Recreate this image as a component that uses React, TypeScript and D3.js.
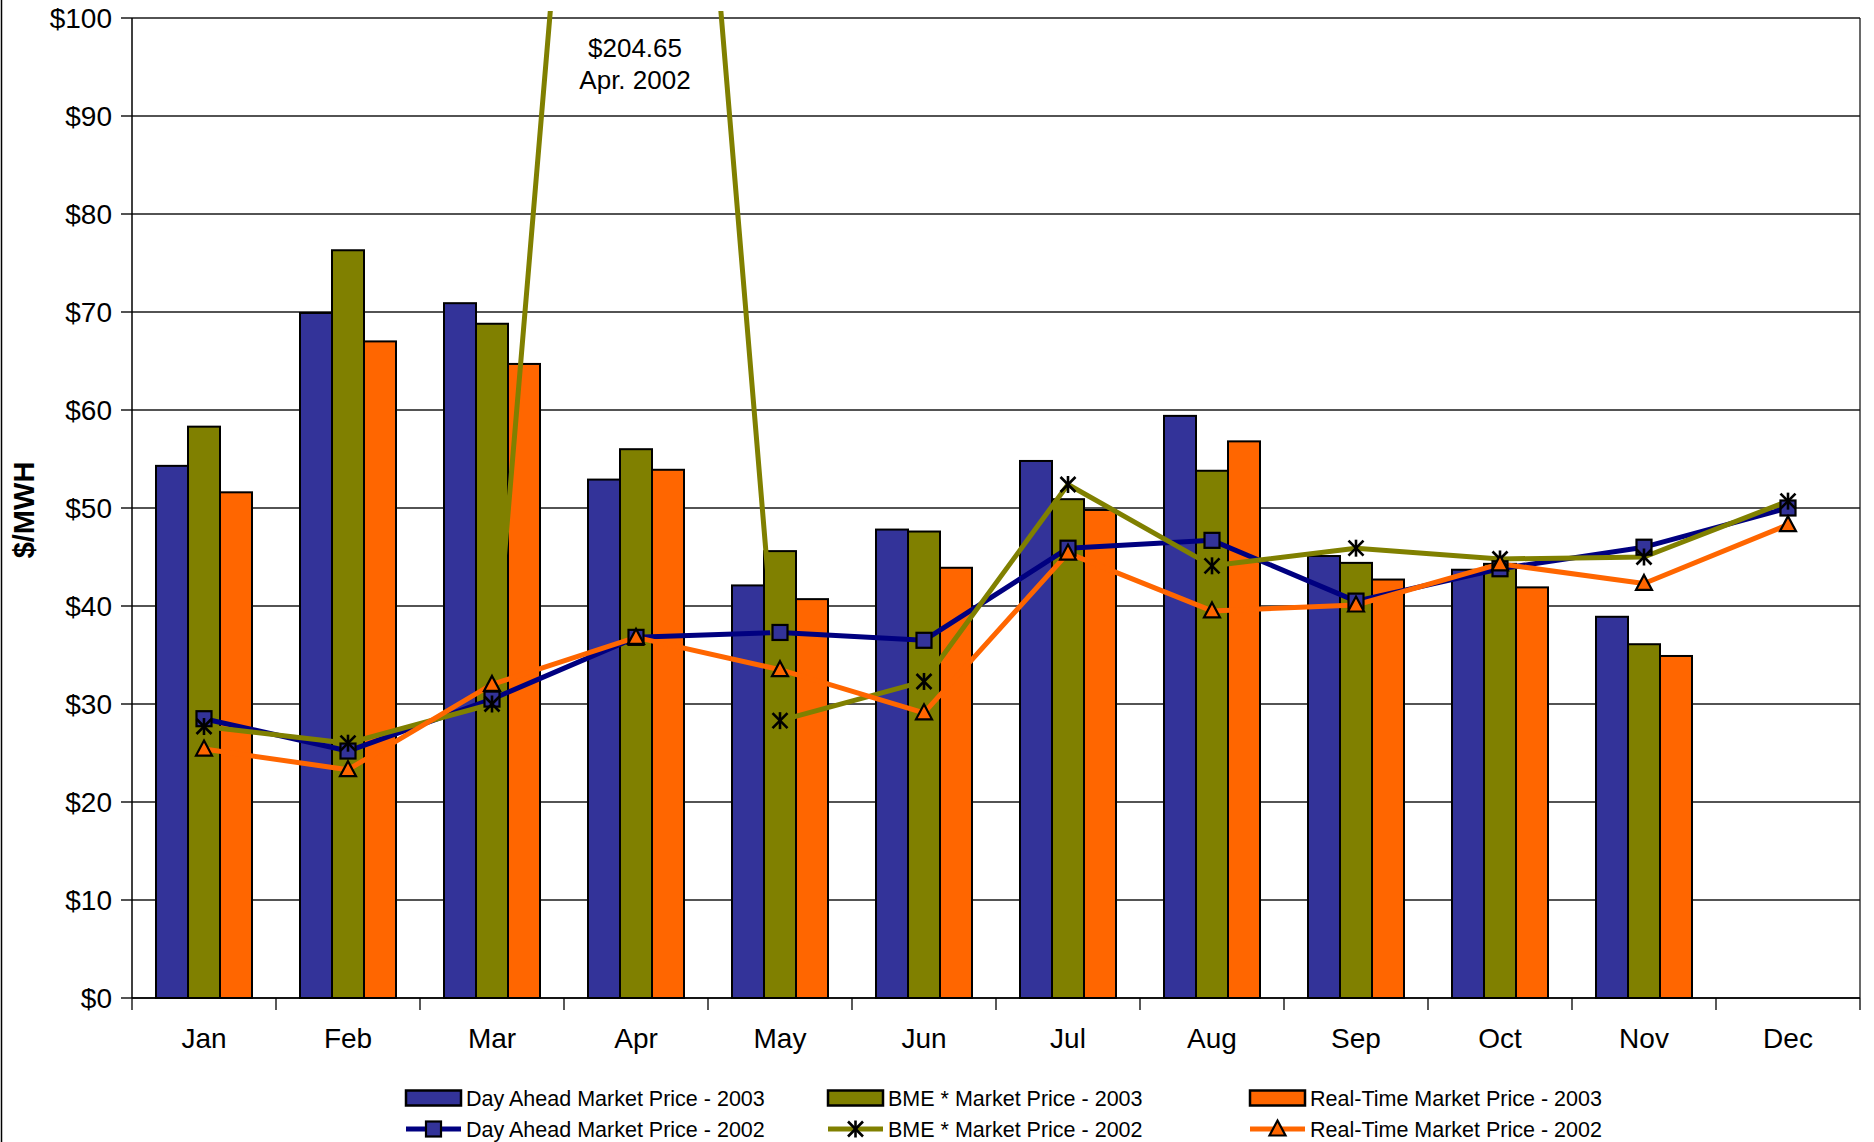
import React from "react";
import * as d3 from "d3";

const months = ["Jan", "Feb", "Mar", "Apr", "May", "Jun", "Jul", "Aug", "Sep", "Oct", "Nov", "Dec"];
const da2003: (number | null)[] = [54.3, 69.9, 70.9, 52.9, 42.1, 47.8, 54.8, 59.4, 45.1, 43.7, 38.9, null];
const bme2003: (number | null)[] = [58.3, 76.3, 68.8, 56.0, 45.6, 47.6, 50.9, 53.8, 44.4, 44.3, 36.1, null];
const rt2003: (number | null)[] = [51.6, 67.0, 64.7, 53.9, 40.7, 43.9, 49.8, 56.8, 42.7, 41.9, 34.9, null];
const da2002 = [28.5, 25.2, 30.5, 36.8, 37.3, 36.5, 45.9, 46.7, 40.5, 43.8, 46.0, 50.0];
const bme2002 = [27.7, 26.0, 30.0, 204.65, 28.3, 32.3, 52.4, 44.1, 45.9, 44.8, 45.0, 50.7];
const rt2002 = [25.4, 23.3, 32.0, 36.8, 33.5, 29.1, 45.4, 39.5, 40.1, 44.3, 42.3, 48.3];
const yTicks = [0, 10, 20, 30, 40, 50, 60, 70, 80, 90, 100];
const annotation = ["$204.65", "Apr. 2002"];

const barSeries = [
  { key: "da", name: "Day Ahead Market Price - 2003", values: da2003, color: "#333399" },
  { key: "bme", name: "BME * Market Price - 2003", values: bme2003, color: "#808000" },
  { key: "rt", name: "Real-Time Market Price - 2003", values: rt2003, color: "#FF6600" },
];
const lineSeries = [
  { key: "da", name: "Day Ahead Market Price - 2002", values: da2002, color: "#000080", marker: "square" },
  { key: "bme", name: "BME * Market Price - 2002", values: bme2002, color: "#808000", marker: "star" },
  { key: "rt", name: "Real-Time Market Price - 2002", values: rt2002, color: "#FF6600", marker: "triangle" },
];

const W = 1874;
const H = 1142;
const L = 132;
const R = 1860;
const T = 18;
const B = 998;
const FONT = "Liberation Sans, Arial, sans-serif";

function Marker({ type, x, y }: { type: string; x: number; y: number }) {
  if (type === "square") {
    return <rect x={x - 7.5} y={y - 7.5} width={15} height={15} fill="#333399" stroke="#000" strokeWidth={2.2} />;
  }
  if (type === "triangle") {
    const p = `${x},${y - 8.5} ${x + 8},${y + 6.5} ${x - 8},${y + 6.5}`;
    return <polygon points={p} fill="#FF6600" stroke="#000" strokeWidth={2.2} strokeLinejoin="miter" />;
  }
  const s = 7.5;
  return (
    <g stroke="#000" strokeWidth={2.6}>
      <line x1={x - s} y1={y - s} x2={x + s} y2={y + s} />
      <line x1={x - s} y1={y + s} x2={x + s} y2={y - s} />
      <line x1={x} y1={y - s - 1} x2={x} y2={y + s + 1} />
    </g>
  );
}

export default function App() {
  const x = d3.scaleBand<string>().domain(months).range([L, R]).paddingInner(0).paddingOuter(0);
  const inner = d3
    .scaleBand<string>()
    .domain(barSeries.map((s) => s.key))
    .range([0, x.bandwidth()])
    .paddingInner(0)
    .paddingOuter(0.75);
  const y = d3.scaleLinear().domain([0, 100]).range([B, T]);
  const line = d3
    .line<number>()
    .x((_, i) => (x(months[i]) as number) + x.bandwidth() / 2)
    .y((v) => y(v));

  const boundaries = months.map((m) => x(m) as number).concat([R]);

  const legendCols = [406, 828, 1250];
  const legendRows = [1098, 1129];

  return (
    <svg
      width={W}
      height={H}
      viewBox={`0 0 ${W} ${H}`}
      style={{ position: "absolute", left: 0, top: 0, background: "#fff" }}
      fontFamily={FONT}
    >
      <rect x={0} y={0} width={W} height={H} fill="#fff" />
      <line x1={1.5} y1={0} x2={1.5} y2={H} stroke="#000" strokeWidth={1.5} />
      <defs>
        <clipPath id="plotclip">
          <rect x={L} y={11} width={R - L} height={B - 11} />
        </clipPath>
      </defs>

      {/* gridlines */}
      {yTicks.map((t) => (
        <line key={t} x1={L - 11} x2={R} y1={y(t)} y2={y(t)} stroke="#1a1a1a" strokeWidth={1.3} />
      ))}
      {yTicks.map((t) => (
        <text key={"l" + t} x={112} y={y(t)} dy="0.36em" textAnchor="end" fontSize={28} fill="#000">
          {`$${t}`}
        </text>
      ))}
      <line x1={R} x2={R} y1={T} y2={B} stroke="#1a1a1a" strokeWidth={1.3} />

      {/* bars */}
      {barSeries.map((s) =>
        s.values.map((v, i) =>
          v == null ? null : (
            <rect
              key={s.key + i}
              x={(x(months[i]) as number) + (inner(s.key) as number)}
              y={y(v)}
              width={inner.bandwidth()}
              height={B - y(v)}
              fill={s.color}
              stroke="#000"
              strokeWidth={2}
            />
          )
        )
      )}

      {/* axes */}
      <line x1={L} x2={L} y1={T} y2={B} stroke="#000" strokeWidth={1.5} />
      <line x1={L} x2={R} y1={B} y2={B} stroke="#000" strokeWidth={1.5} />
      {boundaries.map((b, i) => (
        <line key={"xt" + i} x1={b} x2={b} y1={B} y2={B + 12} stroke="#000" strokeWidth={1.3} />
      ))}
      {months.map((m) => (
        <text key={m} x={(x(m) as number) + x.bandwidth() / 2} y={1048} textAnchor="middle" fontSize={28} fill="#000">
          {m}
        </text>
      ))}

      {/* lines */}
      <g clipPath="url(#plotclip)">
        {lineSeries.map((s) => (
          <path key={s.key} d={line(s.values) || ""} fill="none" stroke={s.color} strokeWidth={5} strokeLinejoin="round" />
        ))}
      </g>
      {lineSeries.map((s) =>
        s.values.map((v, i) =>
          y(v) < T ? null : (
            <Marker key={s.key + "m" + i} type={s.marker} x={(x(months[i]) as number) + x.bandwidth() / 2} y={y(v)} />
          )
        )
      )}

      {/* annotation */}
      <text x={635} y={57} textAnchor="middle" fontSize={26} fill="#000">
        {annotation[0]}
      </text>
      <text x={635} y={89} textAnchor="middle" fontSize={26} fill="#000">
        {annotation[1]}
      </text>

      {/* y title */}
      <text
        transform={`translate(34,510) rotate(-90)`}
        textAnchor="middle"
        fontSize={29}
        fontWeight="bold"
        fill="#000"
      >
        $/MWH
      </text>

      {/* legend */}
      {barSeries.map((s, i) => (
        <g key={"lb" + s.key}>
          <rect x={legendCols[i]} y={legendRows[0] - 7.5} width={55} height={15} fill={s.color} stroke="#000" strokeWidth={2.5} />
          <text x={legendCols[i] + 60} y={legendRows[0]} dy="0.36em" fontSize={21.5} fill="#000">
            {s.name}
          </text>
        </g>
      ))}
      {lineSeries.map((s, i) => (
        <g key={"ll" + s.key}>
          <line x1={legendCols[i]} x2={legendCols[i] + 55} y1={legendRows[1]} y2={legendRows[1]} stroke={s.color} strokeWidth={5} />
          <Marker type={s.marker} x={legendCols[i] + 27.5} y={legendRows[1]} />
          <text x={legendCols[i] + 60} y={legendRows[1]} dy="0.36em" fontSize={21.5} fill="#000">
            {s.name}
          </text>
        </g>
      ))}
    </svg>
  );
}
